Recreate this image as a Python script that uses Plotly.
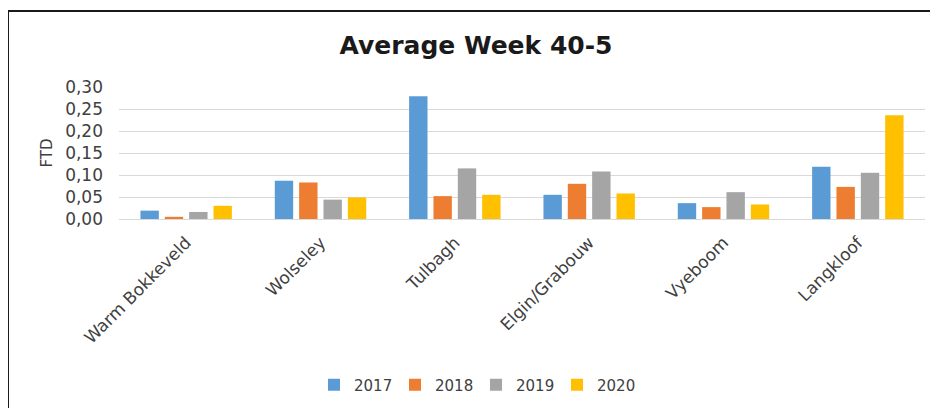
import plotly.graph_objects as go

categories = ["Warm Bokkeveld", "Wolseley", "Tulbagh", "Elgin/Grabouw", "Vyeboom", "Langkloof"]
years = ["2017", "2018", "2019", "2020"]
v2017 = [0.019, 0.087, 0.279, 0.055, 0.036, 0.119]
v2018 = [0.005, 0.083, 0.052, 0.080, 0.027, 0.073]
v2019 = [0.016, 0.044, 0.115, 0.108, 0.061, 0.105]
v2020 = [0.030, 0.049, 0.055, 0.058, 0.033, 0.236]
colors = ["#5B9BD5", "#ED7D31", "#A5A5A5", "#FFC000"]
y_ticks = [0.0, 0.05, 0.10, 0.15, 0.20, 0.25, 0.30]

FONT = "DejaVu Sans"
OFF = 8  # page body margin offset

fig = go.Figure()
for name, vals, col in zip(years, [v2017, v2018, v2019, v2020], colors):
    fig.add_trace(go.Bar(x=categories, y=vals, name=name, marker=dict(color=col, line=dict(width=0))))

W, H = 938, 408
L, R, T, B = 119 - OFF, 21, 87 - OFF, 408 - (219 - OFF)
pw = W - L - R
ph = H - T - B

fig.update_layout(
    width=W, height=H,
    margin=dict(l=L, r=R, t=T, b=B, pad=0),
    paper_bgcolor="white", plot_bgcolor="white",
    separators=",.",
    barmode="group", bargap=0.275, bargroupgap=0.245,
    title=dict(text="<b>Average Week 40-5</b>", x=(476 - OFF) / W, xref="container", xanchor="center",
               y=1 - (45 - OFF) / H, yref="container", yanchor="middle",
               font=dict(family=FONT, size=25, color="#1a1a1a")),
    font=dict(family=FONT, color="#404040"),
    showlegend=True,
    legend=dict(orientation="h", x=(476 - OFF) / W, xref="container", xanchor="center",
                y=1 - (385 - OFF) / H, yref="container", yanchor="middle",
                font=dict(family=FONT, size=15, color="#404040"),
                itemwidth=30, entrywidth=36, entrywidthmode="pixels", tracegroupgap=0),
    xaxis=dict(tickangle=-45, tickfont=dict(family=FONT, size=17, color="#404040"),
               showline=False, showgrid=False, ticks="outside", ticklen=6, tickcolor="rgba(0,0,0,0)"),
    yaxis=dict(range=[0, 0.30], tickvals=y_ticks, tickformat=".2f",
               tickfont=dict(family=FONT, size=17, color="#404040"),
               showgrid=True, gridcolor="#D9D9D9", gridwidth=1,
               zeroline=True, zerolinecolor="#D9D9D9", zerolinewidth=1,
               showline=False, ticks="", ticklabelstandoff=15,
               title=dict(text="FTD", font=dict(family=FONT, size=15, color="#404040"), standoff=8)),
)

# outer chart border (top and left edges visible in the reference)
fig.add_shape(type="rect", xref="paper", yref="paper",
              x0=(8 - OFF - L) / pw, x1=(W + 20 - L) / pw,
              y0=-(H + 20 - (H - B)) / ph, y1=1 + (T - (11 - OFF)) / ph,
              line=dict(color="#1a1a1a", width=2), fillcolor="rgba(0,0,0,0)", layer="below")

fig.write_html("out.html")
